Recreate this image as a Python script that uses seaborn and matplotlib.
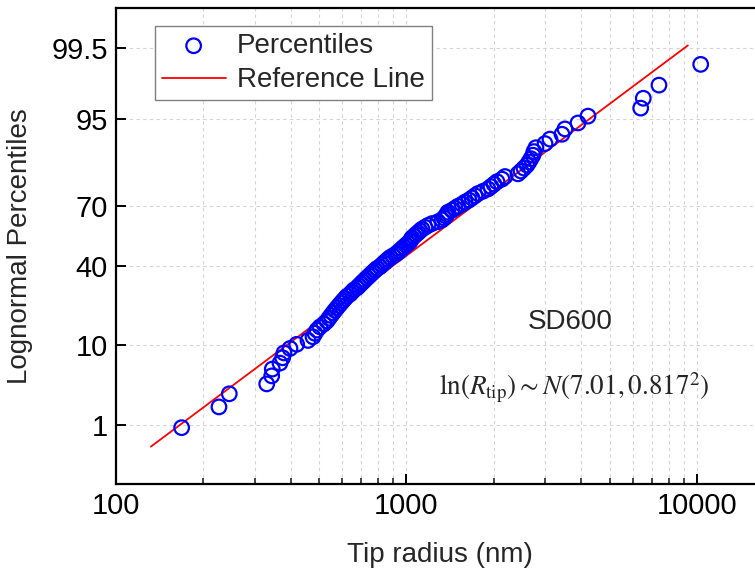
import numpy as np
import pandas as pd
import matplotlib
matplotlib.use("Agg")
import matplotlib.pyplot as plt
from matplotlib import ticker
import seaborn as sns
from statistics import NormalDist

# tip radius values (nm), sorted
tip_radius = [168.3, 226.2, 245.5, 330.3, 343.6, 345.2, 366.9, 374.8, 378.7, 397.2,
              418.8, 458.1, 476.6, 484.2, 491.9, 503.7, 520.0, 532.5, 541.0, 549.6,
              558.4, 567.4, 576.4, 585.6, 595.0, 604.5, 614.2, 624.0, 639.0, 649.2,
              659.6, 675.5, 686.3, 697.3, 708.4, 719.8, 731.3, 743.0, 754.9, 767.0,
              779.2, 791.7, 810.8, 823.7, 836.9, 850.3, 863.9, 877.7, 898.8, 920.4,
              935.1, 950.1, 965.3, 980.4, 996.0, 1012, 1028, 1036, 1044, 1061,
              1078, 1096, 1113, 1131, 1158, 1186, 1224, 1283, 1325, 1346,
              1368, 1378, 1389, 1434, 1469, 1504, 1553, 1590, 1641, 1681,
              1721, 1763, 1834, 1908, 1954, 2001, 2049, 2132, 2183, 2420,
              2479, 2538, 2598, 2640, 2682, 2725, 2746, 2790, 2998, 3118,
              3429, 3512, 3894, 4215, 6400, 6534, 7398, 10297]

# fitted lognormal: ln(R_tip) ~ N(mu, sigma^2)
mu = 7.01
sigma = 0.817
line_pct = [0.46, 99.54]   # percentile span of the reference line

ytick_vals = [1, 10, 40, 70, 95, 99.5]
ytick_labels = ["1", "10", "40", "70", "95", "99.5"]
xtick_vals = [100, 1000, 10000]

n = len(tip_radius)
rank_pct = np.arange(1, n + 1) / (n + 1) * 100  # plotting positions i/(n+1)

nd = NormalDist()
line_x = [float(np.exp(mu + sigma * nd.inv_cdf(p / 100))) for p in line_pct]

pts = pd.DataFrame({"radius": tip_radius, "pct": rank_pct})
ref = pd.DataFrame({"radius": line_x, "pct": line_pct})


def fwd(p):
    p = np.clip(np.asarray(p, dtype=float), 1e-9, 100 - 1e-9)
    return np.vectorize(lambda v: nd.inv_cdf(v / 100), otypes=[float])(p)


def inv(z):
    z = np.asarray(z, dtype=float)
    return np.vectorize(lambda v: nd.cdf(v) * 100, otypes=[float])(z)


sns.set_theme(style="white")
plt.rcParams["font.family"] = ["Liberation Sans", "DejaVu Sans"]
plt.rcParams["mathtext.fontset"] = "stix"

fig = plt.figure(figsize=(7.55, 5.72), dpi=100)
ax = fig.add_axes([0.1536, 0.1538, 0.8854, 0.8322])

sns.lineplot(data=ref, x="radius", y="pct", color="red", linewidth=1.3,
             label="Reference Line", ax=ax, zorder=3)
sns.scatterplot(data=pts, x="radius", y="pct", marker="o", s=110,
                facecolors="none", edgecolor="blue", linewidth=1.6,
                label="Percentiles", ax=ax, zorder=4)

ax.set_xscale("log")
ax.set_yscale("function", functions=(fwd, inv))
ax.set_xlim(100, 20000)
ax.set_ylim(0.1, 99.9)

ax.yaxis.set_major_locator(ticker.FixedLocator(ytick_vals))
ax.yaxis.set_major_formatter(ticker.FixedFormatter(ytick_labels))
ax.yaxis.set_minor_locator(ticker.NullLocator())
ax.xaxis.set_major_locator(ticker.FixedLocator(xtick_vals))
ax.xaxis.set_major_formatter(ticker.FuncFormatter(lambda v, _: f"{v:.0f}"))
ax.xaxis.set_minor_locator(ticker.LogLocator(base=10, subs=np.arange(2, 10)))
ax.xaxis.set_minor_formatter(ticker.NullFormatter())

ax.grid(True, which="major", axis="both", color="#d4d4d4", linestyle=(0, (3, 3)), linewidth=0.8)
ax.grid(True, which="minor", axis="x", color="#d4d4d4", linestyle=(0, (3, 3)), linewidth=0.8)
ax.set_axisbelow(True)

for side in ["left", "top", "bottom", "right"]:
    ax.spines[side].set_visible(True)
    ax.spines[side].set_color("black")
    ax.spines[side].set_linewidth(1.6)

ax.tick_params(axis="both", which="major", direction="in", length=7, width=1.4,
               labelsize=21, colors="black", pad=6)
ax.tick_params(axis="x", which="minor", direction="in", length=4, width=1.2, bottom=True)
ax.tick_params(axis="x", which="major", bottom=True)
ax.tick_params(axis="y", which="major", left=True)

ax.set_xlabel("Tip radius (nm)", fontsize=20)
ax.set_ylabel("Lognormal Percentiles", fontsize=20)
ax.xaxis.set_label_coords(0.485, -0.122)
ax.yaxis.set_label_coords(-0.124, 0.5)

ax.text(0.68, 0.34, "SD600", transform=ax.transAxes, fontsize=20, ha="center", va="center")
ax.text(0.686, 0.203, r"$\mathrm{ln}(R_{\mathrm{tip}})\sim N\left(7.01,0.817^{2}\right)$",
        transform=ax.transAxes, fontsize=19.5, ha="center", va="center")

handles, labels = ax.get_legend_handles_labels()
order = [labels.index("Percentiles"), labels.index("Reference Line")]
leg = ax.legend([handles[i] for i in order], [labels[i] for i in order],
                loc="upper left", bbox_to_anchor=(0.058, 0.962), borderaxespad=0,
                fontsize=20, frameon=True, fancybox=False, framealpha=1,
                edgecolor="#808080", handlelength=2.3, handletextpad=0.4,
                borderpad=0.25, labelspacing=0.3)
leg.get_frame().set_linewidth(1.0)

fig.savefig("out.png", dpi=100)
